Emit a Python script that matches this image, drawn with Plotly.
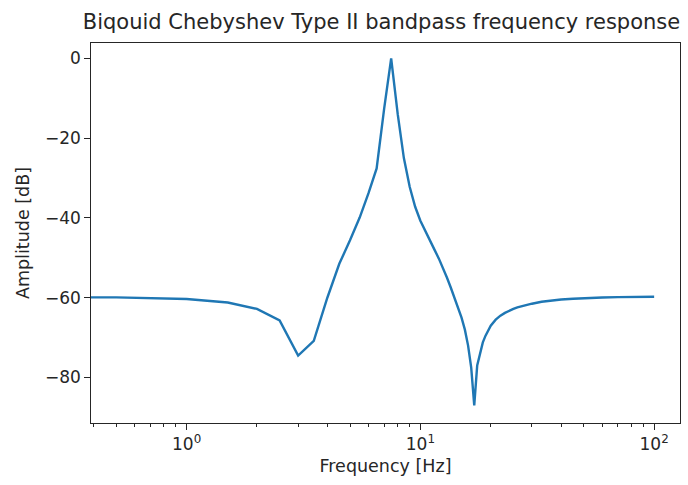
import plotly.graph_objects as go
import math

freq_hz = [0.001, 0.5, 1.0, 1.5, 2.0, 2.5, 3.0, 3.5, 4.0, 4.5, 5.0, 5.5, 6.0, 6.5,
           7.0, 7.5, 8.0, 8.5, 9.0, 9.5, 10.0, 10.5, 11.0, 11.5, 12.0, 12.5, 13.0,
           13.5, 14.0, 14.5, 15.0, 15.5, 16.0, 16.5, 17.0, 17.5, 18.0, 18.5, 19.0,
           19.5, 20.0, 21, 22, 23, 24, 25, 26, 28, 30, 33, 36, 40, 45, 50, 60, 70,
           80, 90, 100]
amp_db = [-59.9, -59.9, -60.3, -61.2, -62.8, -65.7, -74.5, -70.8, -60.0, -51.5,
          -45.6, -39.9, -33.8, -27.6, -12.6, 0.0, -14.0, -25.0, -32.2, -37.2,
          -40.7, -43.4, -45.8, -48.0, -50.2, -52.5, -55.0, -57.5, -60.0, -62.5,
          -65.0, -68.0, -72.0, -77.5, -87.0, -77.0, -74.2, -71.2, -69.5, -68.1,
          -67.0, -65.5, -64.5, -63.8, -63.2, -62.8, -62.4, -61.9, -61.5, -61.0,
          -60.7, -60.45, -60.25, -60.1, -59.95, -59.85, -59.8, -59.78, -59.75]

x_major = [1, 10, 100]
x_major_text = ["10<sup>0</sup>", "10<sup>1</sup>", "10<sup>2</sup>"]
x_minor = [0.4, 0.5, 0.6, 0.7, 0.8, 0.9, 2, 3, 4, 5, 6, 7, 8, 9,
           20, 30, 40, 50, 60, 70, 80, 90]
y_ticks = [0, -20, -40, -60, -80]
y_tick_text = ["0", "\u221220", "\u221240", "\u221260", "\u221280"]

title = "Biqouid Chebyshev Type II bandpass frequency response"
x_label = "Frequency [Hz]"
y_label = "Amplitude [dB]"

font = "DejaVu Sans"
txt = "#262626"

fig = go.Figure()
fig.add_trace(go.Scatter(x=freq_hz, y=amp_db, mode="lines",
                         line=dict(color="#1f77b4", width=2.4),
                         showlegend=False, hoverinfo="skip"))

fig.update_layout(
    width=688, height=485,
    margin=dict(l=91, r=8, t=43, b=62),
    paper_bgcolor="white", plot_bgcolor="white",
    font=dict(family=font, size=17, color=txt),
    title=dict(text=title, x=(83 + 680) / 2 / 688, xanchor="center",
               y=1 - 22 / 485, yanchor="middle",
               font=dict(family=font, size=21, color=txt)),
)
fig.update_xaxes(
    type="log",
    range=[math.log10(0.39), math.log10(129)],
    tickmode="array", tickvals=x_major, ticktext=x_major_text,
    ticks="outside", ticklen=5.6, tickwidth=1.3, tickcolor=txt,
    minor=dict(tickmode="array", tickvals=x_minor, ticks="outside",
               ticklen=3.2, tickwidth=1.0, tickcolor=txt, showgrid=False),
    showgrid=False, zeroline=False,
    showline=True, linecolor=txt, linewidth=1.3, mirror=True,
    tickfont=dict(family=font, size=17, color=txt),
    title=dict(text=x_label, standoff=6, font=dict(family=font, size=17.5, color=txt)),
)
fig.update_yaxes(
    range=[-91.4, 3.85],
    tickmode="array", tickvals=y_ticks, ticktext=y_tick_text,
    ticks="outside", ticklen=5.6, tickwidth=1.3, tickcolor=txt,
    showgrid=False, zeroline=False,
    showline=True, linecolor=txt, linewidth=1.3, mirror=True,
    tickfont=dict(family=font, size=17, color=txt),
    title=dict(text=y_label, standoff=10, font=dict(family=font, size=17.5, color=txt)),
)

fig.write_html("out.html")
